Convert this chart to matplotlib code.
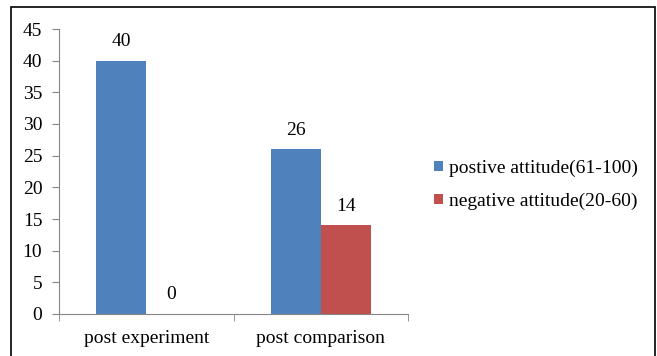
import numpy as np
import matplotlib
matplotlib.use('Agg')
import matplotlib.pyplot as plt
from matplotlib.patches import Rectangle

categories = ['post experiment', 'post comparison']
series_names = ['postive attitude(61-100)', 'negative attitude(20-60)']
positive = [40, 26]
negative = [0, 14]
colors = ['#4F81BD', '#C0504D']

plt.rcParams['font.family'] = ['Liberation Serif', 'DejaVu Serif']

fig = plt.figure(figsize=(6.57, 3.56), dpi=100)
ax = fig.add_axes([59/657, 1 - 314/356, (408 - 59)/657, (314 - 29)/356])

x = np.arange(len(categories))
w = 0.286
b1 = ax.bar(x - w/2, positive, w, color=colors[0], label=series_names[0])
b2 = ax.bar(x + w/2, negative, w, color=colors[1], label=series_names[1])

for bars in (b1, b2):
    for r in bars:
        ax.text(r.get_x() + r.get_width()/2, r.get_height() + 1.7, f'{r.get_height():g}',
                ha='center', va='bottom', fontsize=14)

ax.set_xlim(-0.5, 1.5)
ax.set_ylim(0, 45)
ax.set_yticks(range(0, 46, 5))
ax.set_xticks(x)
ax.set_xticklabels(categories)
ax.set_xticks([-0.5, 0.5, 1.5], minor=True)
ax.tick_params(axis='x', which='major', length=0, pad=11.5, labelsize=14)
ax.tick_params(axis='x', which='minor', length=5, color='#868686')
ax.tick_params(axis='y', length=5, color='#868686', labelsize=14, pad=7)
for s in ['top', 'right']:
    ax.spines[s].set_visible(False)
for s in ['left', 'bottom']:
    ax.spines[s].set_color('#868686')
    ax.spines[s].set_linewidth(0.8)

fig.legend(handles=[b1, b2], loc='center left', bbox_to_anchor=(434/657, 1 - 185/356),
           frameon=False, fontsize=14, handlelength=0.45, handleheight=0.45,
           handletextpad=0.3, labelspacing=0.8, borderaxespad=0, borderpad=0)

fig.patches.append(Rectangle((11/657, -0.05), (655 - 11)/657, 1.05 - 7.5/356,
                             transform=fig.transFigure, fill=False,
                             edgecolor='black', linewidth=1.2))

fig.savefig('out.png', dpi=100)
